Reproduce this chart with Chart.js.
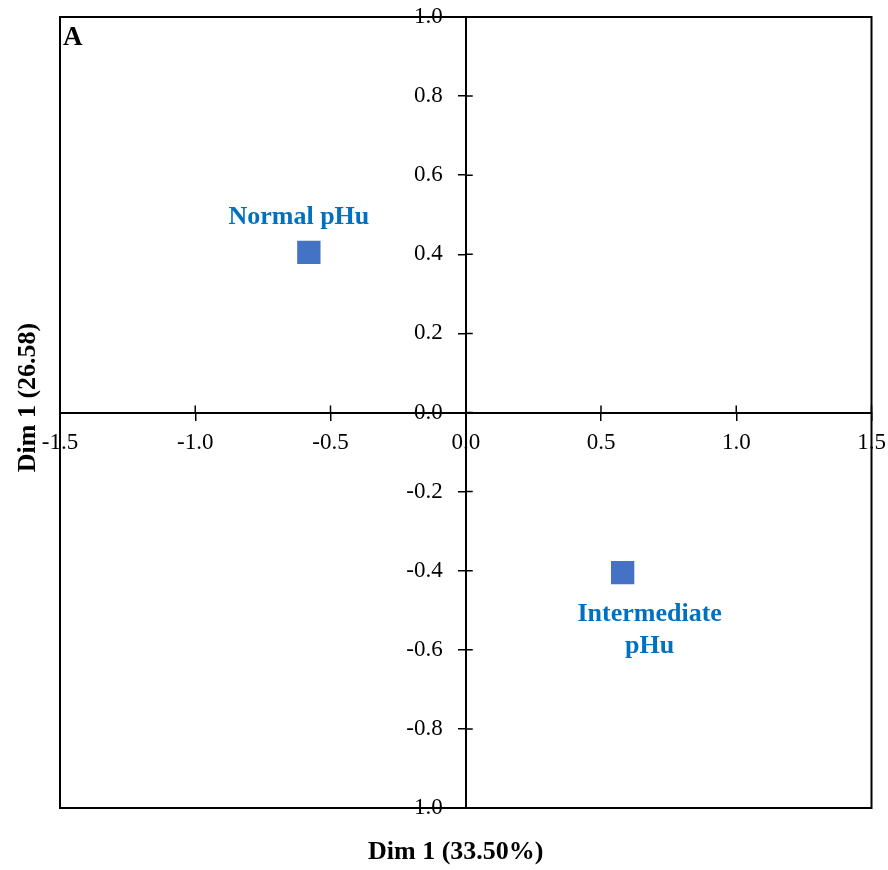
<!DOCTYPE html>
<html>
<head>
<meta charset="utf-8">
<script src="https://cdn.jsdelivr.net/npm/chart.js@4/dist/chart.umd.min.js"></script>
<style>
  html, body { margin: 0; padding: 0; background: #fff; }
  #wrap { width: 888px; height: 870px; }
</style>
</head>
<body>
<div id="wrap"><canvas id="chartPca"></canvas></div>
<script>
// groups and their coordinates on the two dimensions
const groupNames = ['Normal pHu', 'Intermediate pHu'];
const dim1Values = [-0.58, 0.58];
const dim2Values = [0.405, -0.405];

const xTitle = 'Dim 1 (33.50%)';
const yTitle = 'Dim 1 (26.58)';
const panelLetter = 'A';

const serif = 'Liberation Serif, Times New Roman, serif';

// the axes cross in the middle, so their labels must not push the frame in
function noScaleSpace(s) {
  if (s.isHorizontal()) s.height = 0; else s.width = 0;
  s.paddingTop = s.paddingBottom = s.paddingLeft = s.paddingRight = 0;
}

// frame, other half of the crossing ticks, titles and point labels
const extrasPlugin = {
  id: 'extras',
  afterDraw(chart) {
    const ctx = chart.ctx;
    const a = chart.chartArea;
    const xs = chart.scales.x, ys = chart.scales.y;
    ctx.save();
    ctx.strokeStyle = '#000';
    ctx.lineWidth = 2;
    ctx.strokeRect(a.left, a.top, a.right - a.left, a.bottom - a.top);

    const y0 = ys.getPixelForValue(0), x0 = xs.getPixelForValue(0);
    ctx.lineWidth = 1.5;
    ctx.beginPath();
    xs.ticks.forEach((t, i) => {
      const px = xs.getPixelForTick(i);
      ctx.moveTo(px, y0 - 7); ctx.lineTo(px, y0);
    });
    ys.ticks.forEach((t, i) => {
      const py = ys.getPixelForTick(i);
      ctx.moveTo(x0, py); ctx.lineTo(x0 + 7, py);
    });
    ctx.stroke();

    ctx.fillStyle = '#000';
    ctx.font = 'bold 27px ' + serif;
    ctx.textAlign = 'left';
    ctx.textBaseline = 'top';
    ctx.fillText(panelLetter, a.left + 3, a.top + 8);

    // axis titles
    ctx.font = 'bold 26px ' + serif;
    ctx.textAlign = 'center';
    ctx.textBaseline = 'middle';
    ctx.fillText(xTitle, (a.left + a.right) / 2 - 10, a.bottom + 44);
    ctx.save();
    ctx.translate(a.left - 32, (a.top + a.bottom) / 2 - 15);
    ctx.rotate(-Math.PI / 2);
    ctx.fillText(yTitle, 0, 0);
    ctx.restore();

    // point labels
    ctx.fillStyle = '#0070C0';
    ctx.font = 'bold 26px ' + serif;
    const meta = chart.getDatasetMeta(0);
    meta.data.forEach((pt, i) => {
      const name = groupNames[i];
      if (dim2Values[i] >= 0) {
        ctx.fillText(name, pt.x - 10, pt.y - 35);
      } else {
        const parts = name.split(' ');
        ctx.fillText(parts[0], pt.x + 27, pt.y + 42);
        ctx.fillText(parts[1], pt.x + 27, pt.y + 74);
      }
    });
    ctx.restore();
  }
};

const tickFont = { family: serif, size: 23 };

new Chart(document.getElementById('chartPca'), {
  type: 'scatter',
  data: {
    datasets: [{
      label: 'groups',
      data: dim1Values.map((v, i) => ({ x: v, y: dim2Values[i] })),
      pointStyle: 'rect',
      pointRadius: 16.5,
      pointHoverRadius: 16.5,
      backgroundColor: '#4472C4',
      borderColor: '#4472C4',
      borderWidth: 0
    }]
  },
  options: {
    responsive: true,
    maintainAspectRatio: false,
    animation: false,
    layout: { padding: { top: 17, right: 16, bottom: 62, left: 60 } },
    plugins: {
      legend: { display: false },
      tooltip: { enabled: false }
    },
    scales: {
      x: {
        type: 'linear',
        min: -1.5, max: 1.5,
        position: { y: 0 },
        afterFit: noScaleSpace,
        border: { color: '#000', width: 2 },
        grid: { drawOnChartArea: false, drawTicks: true, tickLength: 7, color: '#000', lineWidth: 1.5 },
        ticks: {
          stepSize: 0.5, autoSkip: false, maxRotation: 0,
          color: '#000', font: tickFont, padding: 10,
          callback: v => v.toFixed(1)
        }
      },
      y: {
        type: 'linear',
        min: -1, max: 1,
        position: { x: 0 },
        afterFit: noScaleSpace,
        border: { color: '#000', width: 2 },
        grid: { drawOnChartArea: false, drawTicks: true, tickLength: 7, color: '#000', lineWidth: 1.5 },
        ticks: {
          stepSize: 0.2, autoSkip: false,
          color: '#000', font: tickFont, padding: 0,
          // centred axis: labels sit right-aligned on the axis, an em space keeps them off it
          callback: v => v.toFixed(1) + '\u2003'
        }
      }
    }
  },
  plugins: [extrasPlugin]
});
</script>
</body>
</html>
